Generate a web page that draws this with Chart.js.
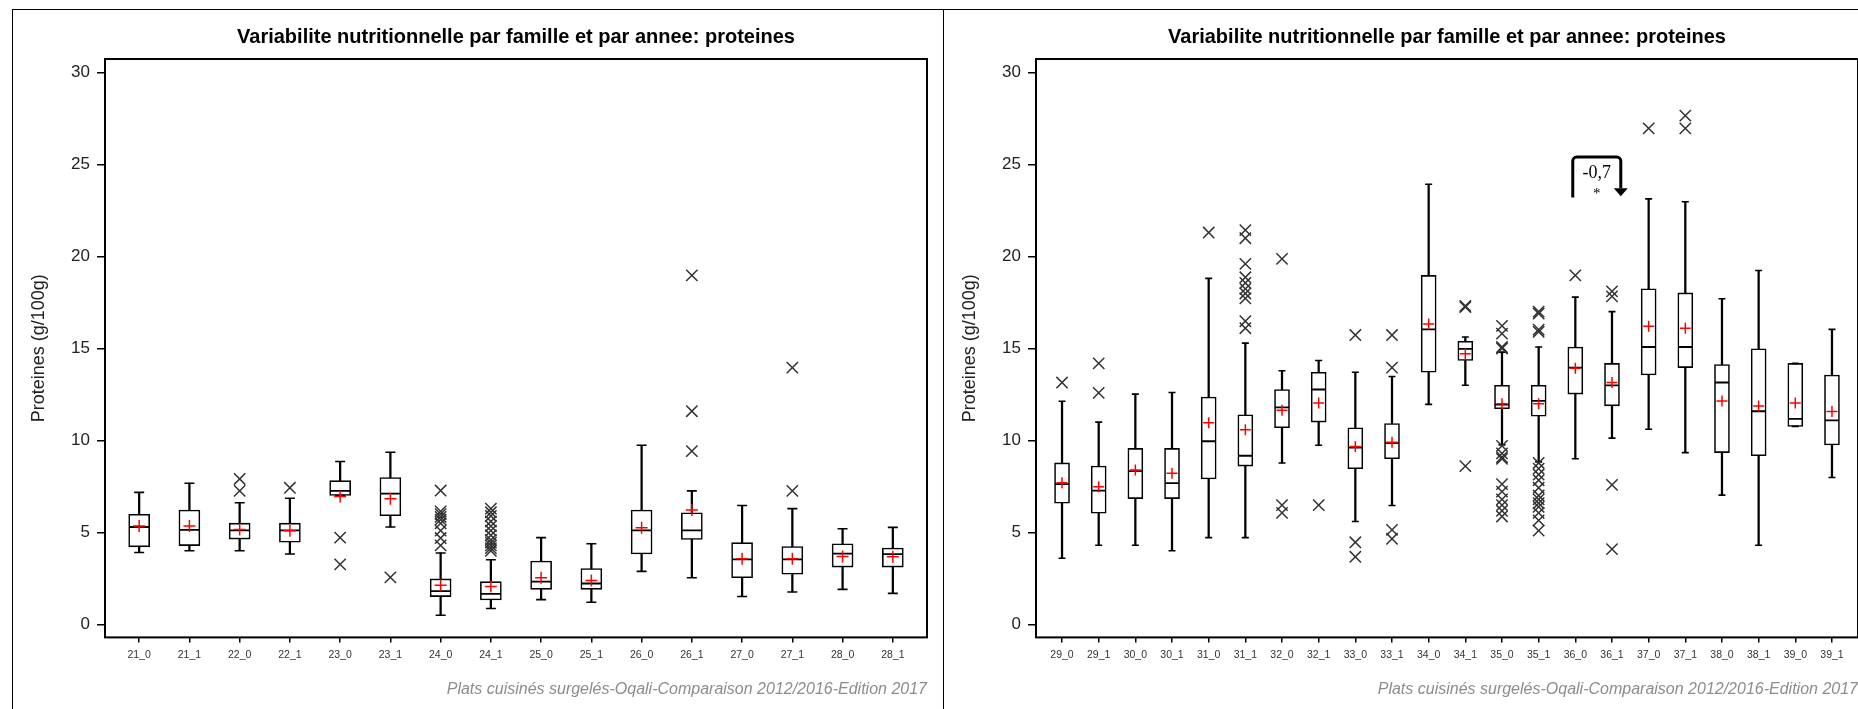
<!DOCTYPE html>
<html>
<head>
<meta charset="utf-8">
<script src="https://cdn.jsdelivr.net/npm/chart.js@4.4.1/dist/chart.umd.min.js"></script>
<style>
  html, body { margin: 0; padding: 0; background: #fff; overflow: hidden; }
  body { width: 1858px; height: 709px; position: relative; }
  .panel { position: absolute; top: 9px; width: 932px; height: 720px; border: 1px solid #000; border-bottom: none; box-sizing: border-box; overflow: hidden; }
  #p1 { left: 12px; }
  #p2 { left: 943px; }
  canvas { display: block; }
</style>
</head>
<body>
<div class="panel" id="p1"><canvas id="c1" width="930" height="699"></canvas></div>
<div class="panel" id="p2"><canvas id="c2" width="930" height="699"></canvas></div>
<script>
// textes
const chartTitle = 'Variabilite nutritionnelle par famille et par annee: proteines'
const yTitle = 'Proteines (g/100g)'
const source = 'Plats cuisinés surgelés-Oqali-Comparaison 2012/2016-Edition 2017'
const yTicks = [0, 5, 10, 15, 20, 25, 30]
const yMin = -0.7
const yMax = 30.73

// familles 21 a 28
const labelsA = ['21_0', '21_1', '22_0', '22_1', '23_0', '23_1', '24_0', '24_1', '25_0', '25_1', '26_0', '26_1', '27_0', '27_1', '28_0', '28_1']
const lowA = [3.91, 4.01, 4.01, 3.83, 7.01, 5.30, 0.50, 0.87, 1.35, 1.21, 2.89, 2.54, 1.52, 1.77, 1.91, 1.69]
const q1A = [4.22, 4.29, 4.64, 4.47, 7.01, 5.91, 1.52, 1.33, 1.91, 1.91, 3.83, 4.62, 2.54, 2.73, 3.12, 3.12]
const medA = [5.30, 5.14, 5.12, 5.12, 7.26, 7.11, 1.81, 1.66, 2.33, 2.23, 5.12, 5.12, 3.54, 3.54, 3.85, 3.83]
const q3A = [5.99, 6.22, 5.51, 5.51, 7.82, 7.99, 2.48, 2.33, 3.45, 3.04, 6.22, 6.07, 4.45, 4.24, 4.39, 4.16]
const highA = [7.18, 7.68, 6.62, 6.86, 8.86, 9.36, 3.89, 3.52, 4.72, 4.39, 9.74, 7.26, 6.47, 6.30, 5.20, 5.28]
const meanA = [5.35, 5.35, 5.16, 5.10, 6.95, 6.84, 2.14, 2.06, 2.54, 2.39, 5.26, 6.22, 3.58, 3.58, 3.70, 3.68]
const outA = [[], [], [7.91, 7.26], [7.43], [4.72, 3.27], [2.56],
  [7.28, 6.15, 6.0, 5.85, 5.7, 5.5, 5.1, 4.7, 4.3],
  [6.3, 6.1, 5.9, 5.6, 5.35, 5.1, 4.85, 4.6, 4.45, 4.3, 4.15, 4.0],
  [], [], [], [18.97, 11.59, 9.42], [], [13.96, 7.26], [], []]

// familles 29 a 39
const labelsB = ['29_0', '29_1', '30_0', '30_1', '31_0', '31_1', '32_0', '32_1', '33_0', '33_1', '34_0', '34_1', '35_0', '35_1', '36_0', '36_1', '37_0', '37_1', '38_0', '38_1', '39_0', '39_1']
const lowB = [3.60, 4.31, 4.31, 4.01, 4.72, 4.72, 8.78, 9.74, 5.60, 6.47, 11.96, 13.0, 9.76, 8.84, 9.01, 10.13, 10.61, 9.34, 7.03, 4.31, 10.76, 7.99]
const q1B = [6.59, 6.05, 6.84, 6.84, 7.91, 8.61, 10.69, 11.00, 8.47, 9.01, 13.71, 14.35, 11.73, 11.32, 12.52, 11.88, 13.56, 13.96, 9.34, 9.17, 10.76, 9.76]
const medB = [7.63, 7.28, 8.34, 7.68, 9.96, 9.17, 11.80, 12.77, 9.61, 9.86, 16.04, 14.98, 11.95, 12.15, 13.96, 13.0, 15.08, 15.08, 13.15, 11.59, 11.17, 11.09]
const q3B = [8.78, 8.61, 9.57, 9.57, 12.36, 11.40, 12.77, 13.71, 10.69, 10.92, 18.97, 15.39, 13.0, 13.0, 15.08, 14.19, 18.24, 18.02, 14.13, 14.98, 14.19, 13.56]
const highB = [12.13, 11.0, 12.52, 12.61, 18.81, 15.29, 13.79, 14.35, 13.71, 13.48, 23.92, 15.62, 14.8, 15.08, 17.79, 17.0, 23.13, 22.97, 17.70, 19.24, 14.19, 16.04]
const meanB = [7.70, 7.49, 8.40, 8.22, 10.96, 10.59, 11.65, 12.04, 9.67, 9.90, 16.33, 14.71, 12.0, 12.0, 13.92, 13.15, 16.21, 16.10, 12.15, 11.88, 12.04, 11.57]
const outB = [[13.15], [14.19, 12.59], [], [], [21.30],
  [21.43, 20.99, 19.6, 18.87, 18.56, 18.24, 17.99, 17.72, 16.48, 16.10],
  [19.87, 6.49, 6.07], [6.49], [15.73, 4.47, 3.68], [15.73, 13.96, 5.14, 4.66], [],
  [17.31, 17.25, 8.61],
  [16.23, 15.81, 15.08, 15.0, 9.71, 9.30, 9.09, 9.0, 7.63, 7.22, 6.80, 6.49, 6.18, 5.87],
  [17.0, 16.9, 16.02, 15.9, 8.78, 8.47, 8.15, 7.84, 7.43, 7.01, 6.80, 6.59, 6.39, 6.07, 5.66, 5.10],
  [18.97], [18.1, 17.83, 7.59, 4.10], [26.96], [27.65, 26.96], [], [], [], []]

// fleche 36_0 -> 36_1
const arrowB = { from: 13.93, to: 15.24, base: 23.2, top: 25.4, tip: 23.27, text: '-0,7', textY: 24.53, sig: '*', sigY: 23.55 }

Chart.defaults.font.family = '"Liberation Sans", Arial, Helvetica, sans-serif'
Chart.defaults.color = '#222'
Chart.defaults.animation = false

const frame = {
  id: 'frame',
  afterDatasetsDraw(chart) {
    const a = chart.chartArea
    const ctx = chart.ctx
    ctx.save()
    ctx.strokeStyle = '#000'
    ctx.lineWidth = 2
    ctx.strokeRect(a.left, a.top, a.right - a.left, a.bottom - a.top)
    ctx.restore()
  }
}

function arrowPlugin(ann) {
  return {
    id: 'arrow',
    afterDatasetsDraw(chart) {
      const xs = chart.scales.x, ys = chart.scales.y, ctx = chart.ctx
      const x1 = xs.getPixelForValue(ann.from), x2 = xs.getPixelForValue(ann.to)
      const yb = ys.getPixelForValue(ann.base), yt = ys.getPixelForValue(ann.top), yp = ys.getPixelForValue(ann.tip)
      ctx.save()
      ctx.strokeStyle = '#000'
      ctx.fillStyle = '#000'
      ctx.lineWidth = 3
      ctx.beginPath()
      ctx.moveTo(x1, yb)
      ctx.arcTo(x1, yt, x2, yt, 4)
      ctx.arcTo(x2, yt, x2, yp, 4)
      ctx.lineTo(x2, yp - 8)
      ctx.stroke()
      ctx.beginPath()
      ctx.moveTo(x2 - 7, yp - 8)
      ctx.lineTo(x2 + 7, yp - 8)
      ctx.lineTo(x2, yp)
      ctx.closePath()
      ctx.fill()
      ctx.textAlign = 'center'
      ctx.textBaseline = 'middle'
      ctx.font = '18px "Liberation Serif", "Times New Roman", serif'
      ctx.fillText(ann.text, (x1 + x2) / 2, ys.getPixelForValue(ann.textY))
      ctx.font = '15px "Liberation Serif", "Times New Roman", serif'
      ctx.fillText(ann.sig, (x1 + x2) / 2, ys.getPixelForValue(ann.sigY) + 3)
      ctx.restore()
    }
  }
}

function boxChart(id, labels, low, q1, med, q3, high, mean, out, look, extra) {
  const at = arr => arr.map((y, i) => ({ x: i, y: y }))
  const outPts = []
  out.forEach((vals, i) => vals.forEach(v => outPts.push({ x: i, y: v })))
  const plugins = [frame]
  if (extra) plugins.push(extra)
  return new Chart(document.getElementById(id), {
    type: 'bar',
    data: {
      datasets: [
        { type: 'bar', data: labels.map((l, i) => ({ x: i, y: [low[i], high[i]] })), backgroundColor: '#000', borderWidth: 0, barThickness: 1.6, grouped: false, order: 5 },
        { type: 'bar', data: labels.map((l, i) => ({ x: i, y: [q1[i], q3[i]] })), backgroundColor: '#fff', borderColor: '#000', borderWidth: 1.6, borderSkipped: false, barThickness: look.boxW, grouped: false, order: 4 },
        { type: 'scatter', data: at(low).concat(at(high)), pointStyle: 'line', pointRadius: look.capR, borderColor: '#000', borderWidth: 1.6, order: 3 },
        { type: 'scatter', data: at(med), pointStyle: 'line', pointRadius: look.boxW / 2 - 0.5, borderColor: '#000', borderWidth: 1.8, order: 2 },
        { type: 'scatter', data: outPts, pointStyle: 'crossRot', pointRadius: 8, borderColor: '#333', borderWidth: 1.5, order: 1 },
        { type: 'scatter', data: at(mean), pointStyle: 'cross', pointRadius: look.meanR, borderColor: '#f00', borderWidth: 1.5, order: 0 }
      ]
    },
    options: {
      responsive: false,
      events: [],
      layout: { padding: { left: 0, right: 16, top: 0, bottom: 0 } },
      plugins: {
        legend: { display: false },
        tooltip: { enabled: false },
        title: { display: true, text: chartTitle, fullSize: false, color: '#000', font: { size: 20, weight: 'bold' }, padding: { top: 15.5, bottom: 9.5 } },
        subtitle: { display: true, text: source, position: 'bottom', align: 'end', fullSize: false, color: '#8c8c8c', font: { size: 16, style: 'italic' }, padding: { top: 0, bottom: 9.4 } }
      },
      scales: {
        x: {
          type: 'linear',
          offset: false,
          min: -look.pad,
          max: labels.length - 1 + look.pad,
          afterBuildTicks: s => { s.ticks = labels.map((l, i) => ({ value: i })) },
          afterFit: s => { s.height = 43 },
          ticks: { callback: v => labels[v], autoSkip: false, maxRotation: 0, padding: 6, color: '#333', font: { size: 10.5 } },
          grid: { offset: false, drawOnChartArea: false, drawTicks: true, tickLength: 5, color: '#000', lineWidth: 1.5 },
          border: { display: false }
        },
        y: {
          min: yMin,
          max: yMax,
          afterBuildTicks: s => { s.ticks = yTicks.map(v => ({ value: v })) },
          afterFit: s => { s.width = 92 },
          ticks: { padding: 7, color: '#222', font: { size: 17 } },
          grid: { drawOnChartArea: false, drawTicks: true, tickLength: 8, color: '#000', lineWidth: 1.5 },
          border: { display: false },
          title: { display: true, text: yTitle, color: '#222', font: { size: 18 }, padding: { top: 15, bottom: 0 } }
        }
      }
    },
    plugins: plugins
  })
}

boxChart('c1', labelsA, lowA, q1A, medA, q3A, highA, meanA, outA, { pad: 0.68, boxW: 21, capR: 5, meanR: 6 })
boxChart('c2', labelsB, lowB, q1B, medB, q3B, highB, meanB, outB, { pad: 0.71, boxW: 15, capR: 3.5, meanR: 5.5 }, arrowPlugin(arrowB))
</script>
</body>
</html>
